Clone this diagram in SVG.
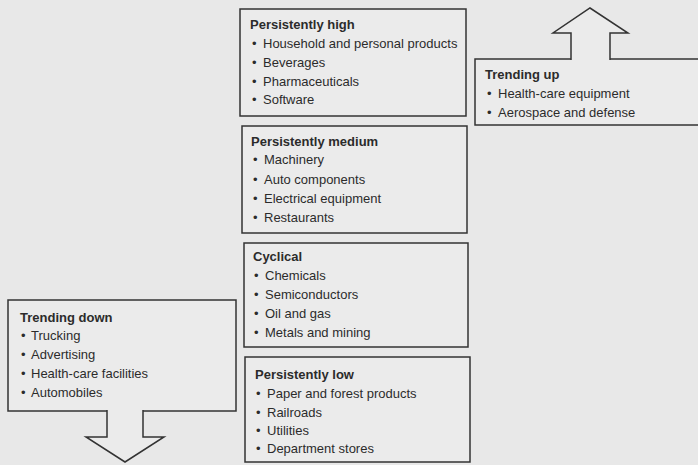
<svg xmlns="http://www.w3.org/2000/svg" width="698" height="465" viewBox="0 0 698 465">
<style>
.bg{fill:#e8e8e8}
.box{fill:#ebebeb;stroke:#333;stroke-width:1.5}
.arrow{fill:#ebebeb;stroke:#333;stroke-width:1.5;stroke-linejoin:miter}
text{font-family:"Liberation Sans",Arial,sans-serif;font-size:13px;fill:#2b2b2b}
.t{font-weight:bold}
</style>
<rect class="bg" x="0" y="0" width="698" height="465"/>
<g id="high">
<rect class="box" x="240" y="9" width="226" height="107"/>
<text class="t" x="250" y="29">Persistently high</text>
<text x="252" y="48">•<tspan x="263">Household and personal products</tspan></text>
<text x="252" y="67">•<tspan x="263">Beverages</tspan></text>
<text x="252" y="86">•<tspan x="263">Pharmaceuticals</tspan></text>
<text x="252" y="104">•<tspan x="263">Software</tspan></text>
</g>
<g id="medium">
<rect class="box" x="242" y="126" width="225" height="107"/>
<text class="t" x="251" y="146">Persistently medium</text>
<text x="253" y="164">•<tspan x="264">Machinery</tspan></text>
<text x="253" y="184">•<tspan x="264">Auto components</tspan></text>
<text x="253" y="203">•<tspan x="264">Electrical equipment</tspan></text>
<text x="253" y="222">•<tspan x="264">Restaurants</tspan></text>
</g>
<g id="cyclical">
<rect class="box" x="244" y="243" width="224" height="104"/>
<text class="t" x="253" y="261">Cyclical</text>
<text x="254" y="280">•<tspan x="265">Chemicals</tspan></text>
<text x="254" y="299">•<tspan x="265">Semiconductors</tspan></text>
<text x="254" y="318">•<tspan x="265">Oil and gas</tspan></text>
<text x="254" y="337">•<tspan x="265">Metals and mining</tspan></text>
</g>
<g id="low">
<rect class="box" x="245" y="357" width="225" height="105"/>
<text class="t" x="255" y="379">Persistently low</text>
<text x="256" y="398">•<tspan x="267">Paper and forest products</tspan></text>
<text x="256" y="417">•<tspan x="267">Railroads</tspan></text>
<text x="256" y="435">•<tspan x="267">Utilities</tspan></text>
<text x="256" y="453">•<tspan x="267">Department stores</tspan></text>
</g>
<g id="up">
<rect class="box" x="475" y="59" width="235" height="66"/>
<text class="t" x="485" y="79">Trending up</text>
<text x="487" y="98">•<tspan x="498">Health-care equipment</tspan></text>
<text x="487" y="117">•<tspan x="498">Aerospace and defense</tspan></text>
</g>
<g id="down">
<rect class="box" x="8" y="300" width="228" height="111"/>
<text class="t" x="20" y="322">Trending down</text>
<text x="21" y="340">•<tspan x="31">Trucking</tspan></text>
<text x="21" y="359">•<tspan x="31">Advertising</tspan></text>
<text x="21" y="378">•<tspan x="31">Health-care facilities</tspan></text>
<text x="21" y="397">•<tspan x="31">Automobiles</tspan></text>
</g>
<g id="connectors">
<path class="arrow" d="M571,60 V33 H553 L590,8 L628,33 H610 V60"/>
<path class="arrow" d="M107,410 V437 H86 L125,462 L164,437 H143 V410"/>
</g>
</svg>
